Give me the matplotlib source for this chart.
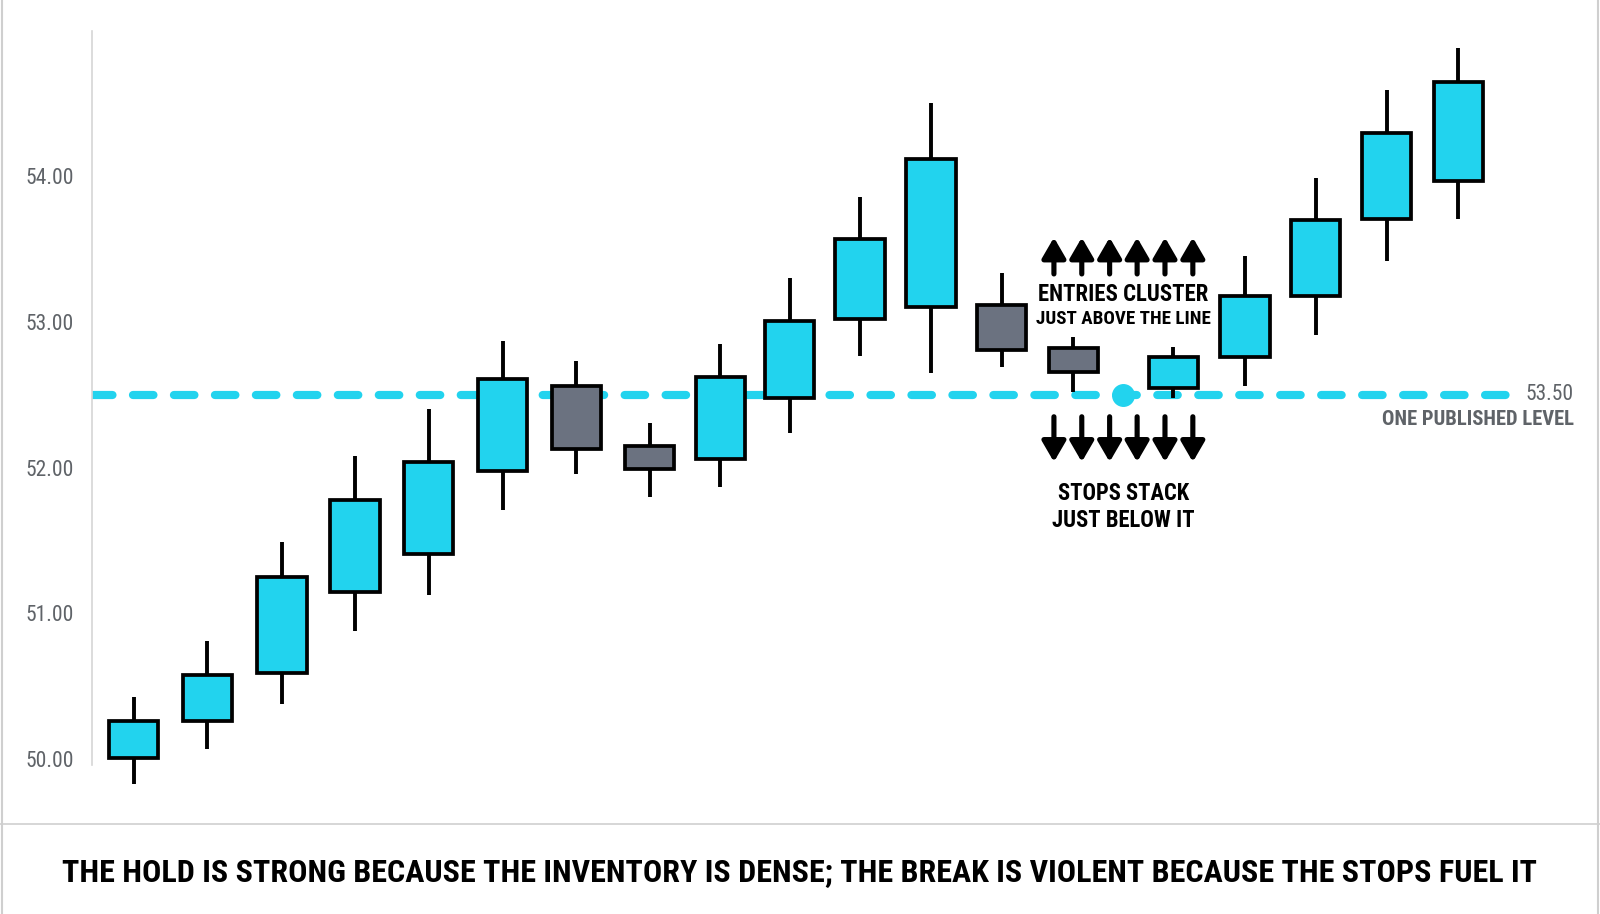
import numpy as np
import matplotlib
matplotlib.use("Agg")
import matplotlib.pyplot as plt
from matplotlib import font_manager
from matplotlib.patches import Rectangle
from matplotlib.lines import Line2D

# ---------------------------------------------------
# DATA
# ---------------------------------------------------
# candle positions in bar units (a small gap sits around the marked touch)
bar_x = [0, 1.02, 2.05, 3.06, 4.08, 5.10, 6.12, 7.13, 8.11, 9.07,
         10.04, 11.02, 12.00, 12.99, 14.37, 15.36, 16.34, 17.32, 18.31]
opens = [50.01, 50.26, 50.59, 51.15, 51.41, 51.98, 52.56, 52.15, 52.06, 52.48,
         53.02, 53.10, 53.12, 52.82, 52.55, 52.76, 53.18, 53.71, 53.97]
closes = [50.26, 50.58, 51.25, 51.78, 52.04, 52.61, 52.13, 51.99, 52.62, 53.01,
          53.57, 54.12, 52.81, 52.66, 52.76, 53.18, 53.70, 54.30, 54.65]
highs = [50.43, 50.81, 51.49, 52.08, 52.40, 52.87, 52.73, 52.31, 52.85, 53.30,
         53.86, 54.50, 53.34, 52.90, 52.83, 53.45, 53.99, 54.59, 54.88]
lows = [49.83, 50.07, 50.38, 50.88, 51.13, 51.71, 51.96, 51.80, 51.87, 52.24,
        52.77, 52.65, 52.69, 52.52, 52.48, 52.56, 52.91, 53.42, 53.71]

level = 52.5
level_label = "53.50"
touch_x = 13.68
y_ticks = [50, 51, 52, 53, 54]
y_tick_labels = ["50.00", "51.00", "52.00", "53.00", "54.00"]
arrow_offsets = [-0.96, -0.575, -0.19, 0.19, 0.575, 0.96]

title = ("THE HOLD IS STRONG BECAUSE THE INVENTORY IS DENSE; "
         "THE BREAK IS VIOLENT BECAUSE THE STOPS FUEL IT")

CYAN = "#22D3EE"
GREY_BODY = "#6B7280"
LABEL_GREY = "#5f6368"

# ---------------------------------------------------
# FONT
# ---------------------------------------------------
installed = {f.name for f in font_manager.fontManager.ttflist}
font = "Roboto"
for cand in ["Roboto Condensed", "Liberation Sans Narrow", "Roboto"]:
    if cand in installed:
        font = cand
        break
plt.rcParams["font.family"] = [font, "DejaVu Sans"]

# ---------------------------------------------------
# FIGURE (layout measured on a 1568 px wide view, scaled by S)
# ---------------------------------------------------
W, H = 1600, 914
S = 1600 / 1568
fig = plt.figure(figsize=(W / 100, H / 100), dpi=100)
fig.patch.set_facecolor("white")

ax_left, ax_right, ax_top, ax_bot = 90 * S, 1485 * S, 30 * S, 750 * S
ax = fig.add_axes([ax_left / W, 1 - ax_bot / H,
                   (ax_right - ax_left) / W, (ax_bot - ax_top) / H])

px_per_bar = 70.9
x0 = -(131 - 90) / px_per_bar
x1 = x0 + (1485 - 90) / px_per_bar
ax.set_xlim(x0, x1)
ax.set_ylim(50 - 6 / 143, 55.0)

# level line
ax.axhline(level, color=CYAN, lw=5.9, linestyle=(0, (2.5, 2.5)),
           dash_capstyle="round", zorder=1)
ax.plot([touch_x], [level], "o", color=CYAN, markersize=15.5, zorder=4)

# candles
body_w = 0.68
for x, o, c, h, l in zip(bar_x, opens, closes, highs, lows):
    up = c >= o
    ax.plot([x, x], [l, h], color="black", lw=2.8, solid_capstyle="butt",
            zorder=2, clip_on=False)
    ax.add_patch(Rectangle((x - body_w / 2, min(o, c)), body_w, abs(c - o),
                           facecolor=CYAN if up else GREY_BODY,
                           edgecolor="black", lw=2.7, zorder=3, clip_on=False))

# arrows
arrow_style = "-|>,head_width=0.36,head_length=0.62"
for dx in arrow_offsets:
    ax.annotate("", xy=(touch_x + dx, 53.58), xytext=(touch_x + dx, 53.33),
                arrowprops=dict(arrowstyle=arrow_style, lw=3.7, color="black",
                                mutation_scale=20, shrinkA=0, shrinkB=0), zorder=5)
    ax.annotate("", xy=(touch_x + dx, 52.04), xytext=(touch_x + dx, 52.35),
                arrowprops=dict(arrowstyle=arrow_style, lw=3.7, color="black",
                                mutation_scale=20, shrinkA=0, shrinkB=0), zorder=5)

# axis styling
for s in ["top", "right", "bottom"]:
    ax.spines[s].set_visible(False)
ax.spines["left"].set_color("#d6d6d6")
ax.spines["left"].set_linewidth(1.2)
ax.set_xticks([])
ax.set_yticks(y_ticks)
ax.set_yticklabels(y_tick_labels)
ax.tick_params(axis="y", length=0, pad=13, labelsize=15.5, labelcolor=LABEL_GREY)

# texts
t1 = ax.text(touch_x, 53.19, "ENTRIES CLUSTER", ha="center", va="center",
             fontweight="bold", fontsize=15, color="black", zorder=6)
t2 = ax.text(touch_x, 53.02, "JUST ABOVE THE LINE", ha="center", va="center",
             fontweight="bold", fontsize=13, color="black", zorder=6)
t3 = ax.text(touch_x, 51.82, "STOPS STACK", ha="center", va="center",
             fontweight="bold", fontsize=15, color="black", zorder=6)
t4 = ax.text(touch_x, 51.64, "JUST BELOW IT", ha="center", va="center",
             fontweight="bold", fontsize=15, color="black", zorder=6)
t5 = ax.text((1495 - 131) / px_per_bar, level, level_label, ha="left", va="center",
             fontsize=15.5, color=LABEL_GREY)
t6 = ax.text((1543 - 131) / px_per_bar, 52.33, "ONE PUBLISHED LEVEL", ha="right",
             va="center", fontweight="bold", fontsize=13, color=LABEL_GREY)
t7 = fig.text(784 * S / W, 1 - 855 * S / H, title, ha="center", va="center",
              fontweight="bold", fontsize=26, color="black")

# frame lines
fig.add_artist(Line2D([0, 1], [1 - 808 * S / H, 1 - 808 * S / H], color="#cfcfcf", lw=1.2))
fig.add_artist(Line2D([1.5 / W, 1.5 / W], [0, 1], color="#cfcfcf", lw=1.5))
fig.add_artist(Line2D([1 - 2 / W, 1 - 2 / W], [0, 1], color="#cfcfcf", lw=1.5))

# fit text widths to the reference widths
fig.canvas.draw()
renderer = fig.canvas.get_renderer()
for t, target in [(t1, 167), (t2, 170), (t3, 129), (t4, 140), (t6, 188), (t7, 1447)]:
    wpx = t.get_window_extent(renderer).width
    t.set_fontsize(t.get_fontsize() * target * S / wpx)

fig.savefig("out.png", dpi=100, facecolor="white")
